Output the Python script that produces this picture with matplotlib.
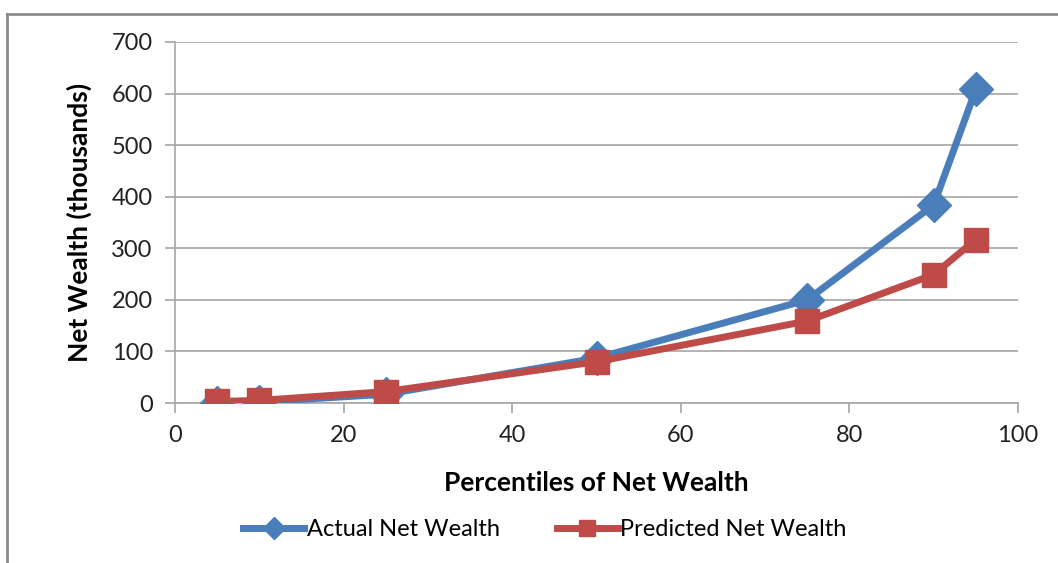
import matplotlib
matplotlib.use("Agg")
import matplotlib.pyplot as plt
from matplotlib.lines import Line2D

# ------------------------------------------------------------
# Data
# ------------------------------------------------------------
percentiles = [5, 10, 25, 50, 75, 90, 95]
actual = [0, 2, 17, 87, 200, 384, 608]
predicted = [3, 5, 22, 80, 159, 249, 317]

BLUE = "#4A7EBB"
RED = "#BE4B48"
GRID = "#A6A6A6"

plt.rcParams["font.family"] = ["Lato", "DejaVu Sans"]

fig = plt.figure(figsize=(10.58, 5.63), dpi=100)
ax = fig.add_axes([175 / 1058, 1 - 403 / 563, (1018 - 175) / 1058, (403 - 42) / 563])

ax.plot(percentiles, actual, color=BLUE, linewidth=5, marker="D",
        markersize=17, label="Actual Net Wealth", zorder=3)
ax.plot(percentiles, predicted, color=RED, linewidth=5, marker="s",
        markersize=17, label="Predicted Net Wealth", zorder=4)

ax.set_xlim(0, 100)
ax.set_ylim(0, 700)
ax.set_xticks(range(0, 101, 20))
ax.set_yticks(range(0, 701, 100))
ax.yaxis.grid(True, color=GRID, linewidth=1.2)
ax.set_axisbelow(True)

for side in ("top", "right"):
    ax.spines[side].set_visible(False)
for side in ("left", "bottom"):
    ax.spines[side].set_color(GRID)
    ax.spines[side].set_linewidth(1.2)
ax.tick_params(axis="both", direction="out", length=7, width=1.2, color=GRID,
               labelsize=17, labelcolor="#222222", pad=9)

ax.set_xlabel("Percentiles of Net Wealth", fontsize=19, fontweight="bold", labelpad=18)
ax.set_ylabel("Net Wealth (thousands)", fontsize=19, fontweight="bold", labelpad=14)

handles, labels = ax.get_legend_handles_labels()
fig.legend(handles, labels, loc="center", bbox_to_anchor=(0.515, 1 - 530 / 563),
           ncol=2, frameon=False, fontsize=17, handlelength=2.6, markerscale=0.65,
           handletextpad=0.1, columnspacing=2.4)

# outer chart frame (Excel style)
fig.add_artist(Line2D([7 / 1058, 7 / 1058], [0, 1 - 14 / 563], color="#8C8C8C",
                      linewidth=2, transform=fig.transFigure))
fig.add_artist(Line2D([7 / 1058, 1], [1 - 14 / 563, 1 - 14 / 563], color="#8C8C8C",
                      linewidth=2, transform=fig.transFigure))

fig.savefig("out.png", dpi=100)
